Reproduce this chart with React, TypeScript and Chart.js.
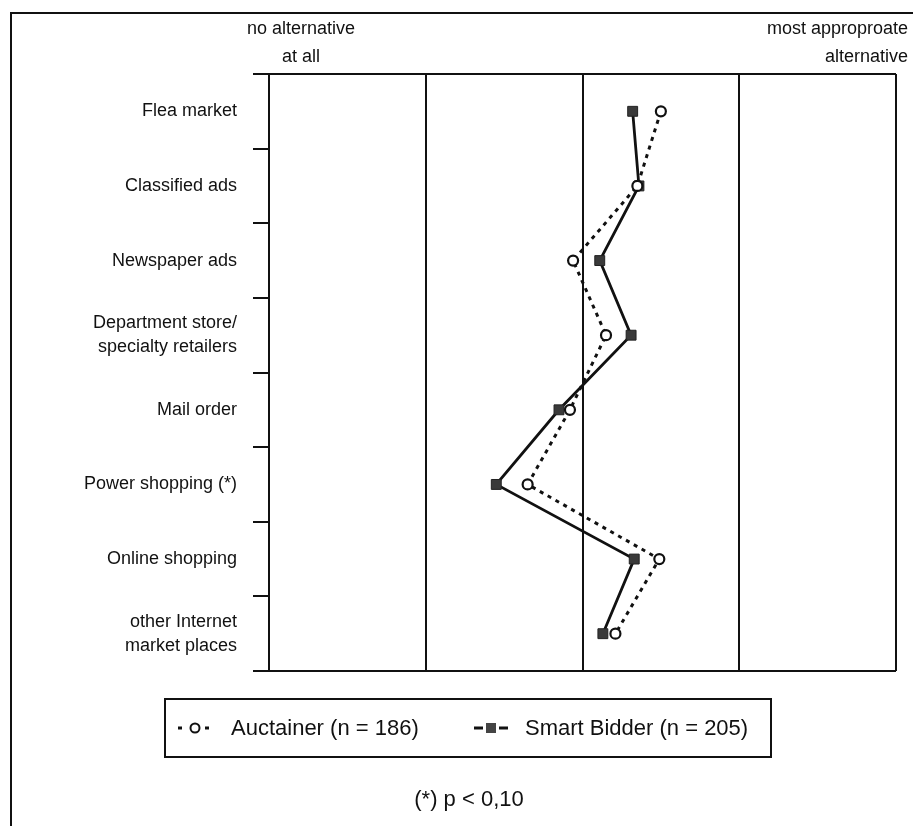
import React, { useEffect, useRef } from "react";
import { Chart, registerables } from "chart.js";

Chart.register(...registerables);

const categories: (string | string[])[] = [
  "Flea market",
  "Classified ads",
  "Newspaper ads",
  ["Department store/", "specialty retailers"],
  "Mail order",
  "Power shopping (*)",
  "Online shopping",
  ["other Internet", "market places"],
];

const auctainerValues = [3.5, 3.35, 2.94, 3.15, 2.92, 2.65, 3.49, 3.21];
const smartBidderValues = [3.32, 3.36, 3.11, 3.31, 2.85, 2.45, 3.33, 3.13];

const scaleMin = 1;
const scaleMax = 5;
const leftLabel = ["no alternative", "at all"];
const rightLabel = ["most approproate", "alternative"];
const seriesNames = ["Auctainer (n = 186)", "Smart Bidder (n = 205)"];
const footnote = "(*) p < 0,10";

const FONT = "'Liberation Sans', Arial, Helvetica, sans-serif";

const framePlugin = {
  id: "frame",
  beforeDatasetsDraw(chart: any) {
    const { ctx, chartArea } = chart;
    const x = chart.scales.x;
    ctx.save();
    ctx.strokeStyle = "#111";
    ctx.lineWidth = 2;
    ctx.beginPath();
    ctx.moveTo(11, 826);
    ctx.lineTo(11, 13);
    ctx.lineTo(913, 13);
    ctx.stroke();
    ctx.beginPath();
    ctx.moveTo(chartArea.left - 15, chartArea.top);
    ctx.lineTo(chartArea.right, chartArea.top);
    ctx.moveTo(chartArea.left - 15, chartArea.bottom);
    ctx.lineTo(chartArea.right, chartArea.bottom);
    ctx.stroke();
    ctx.beginPath();
    for (let v = scaleMin; v <= scaleMax; v++) {
      const px = Math.round(x.getPixelForValue(v));
      ctx.moveTo(px, chartArea.top);
      ctx.lineTo(px, chartArea.bottom);
    }
    ctx.stroke();
    ctx.fillStyle = "#111";
    ctx.font = `18px ${FONT}`;
    ctx.textBaseline = "middle";
    ctx.textAlign = "center";
    const lx = x.getPixelForValue(scaleMin) + 32;
    leftLabel.forEach((t, i) => ctx.fillText(t, lx, 29 + i * 28));
    ctx.textAlign = "right";
    const rx = x.getPixelForValue(scaleMax) + 12;
    rightLabel.forEach((t, i) => ctx.fillText(t, rx, 29 + i * 28));
    ctx.restore();
  },
  afterDraw(chart: any) {
    const { ctx } = chart;
    ctx.save();
    const bx = 165, by = 699, bw = 606, bh = 58;
    ctx.strokeStyle = "#111";
    ctx.lineWidth = 2;
    ctx.strokeRect(bx, by, bw, bh);
    const cy = by + bh / 2;
    ctx.font = `22px ${FONT}`;
    ctx.fillStyle = "#111";
    ctx.textAlign = "left";
    ctx.textBaseline = "middle";
    const items = [
      { x: 178, tx: 231, ds: chart.data.datasets[0] },
      { x: 474, tx: 525, ds: chart.data.datasets[1] },
    ];
    items.forEach((it, i) => {
      ctx.save();
      ctx.strokeStyle = "#111";
      ctx.lineWidth = 3;
      ctx.setLineDash(it.ds.borderDash || []);
      ctx.beginPath();
      ctx.moveTo(it.x, cy);
      ctx.lineTo(it.x + 34, cy);
      ctx.stroke();
      ctx.restore();
      const mx = it.x + 17;
      ctx.fillStyle = "#fff";
      ctx.fillRect(mx - 8, cy - 7, 16, 14);
      if (it.ds.pointStyle === "circle") {
        ctx.beginPath();
        ctx.arc(mx, cy, 4.5, 0, Math.PI * 2);
        ctx.fillStyle = "#fff";
        ctx.fill();
        ctx.lineWidth = 2;
        ctx.strokeStyle = "#111";
        ctx.stroke();
      } else {
        ctx.fillStyle = "#444";
        ctx.fillRect(mx - 5, cy - 5, 10, 10);
      }
      ctx.fillStyle = "#111";
      ctx.fillText(seriesNames[i], it.tx, cy + 1);
    });
    ctx.textAlign = "center";
    ctx.fillText(footnote, 469, 800);
    ctx.restore();
  },
};

export default function App() {
  const canvasRef = useRef<HTMLCanvasElement | null>(null);

  useEffect(() => {
    if (!canvasRef.current) return;
    const chart = new Chart(canvasRef.current, {
      type: "line",
      data: {
        labels: categories as any,
        datasets: [
          {
            label: seriesNames[0],
            data: auctainerValues,
            borderColor: "#111",
            borderWidth: 3,
            borderDash: [4, 5],
            pointStyle: "circle",
            pointRadius: 5,
            pointBackgroundColor: "#fff",
            pointBorderColor: "#111",
            pointBorderWidth: 2.2,
            fill: false,
            tension: 0,
          },
          {
            label: seriesNames[1],
            data: smartBidderValues,
            borderColor: "#111",
            borderWidth: 2.8,
            pointStyle: "rect",
            pointRadius: 7,
            pointBackgroundColor: "#3a3a3a",
            pointBorderColor: "#222",
            pointBorderWidth: 1,
            fill: false,
            tension: 0,
          },
        ],
      },
      options: {
        indexAxis: "y",
        responsive: false,
        animation: false,
        layout: { padding: { left: 0, right: 17, top: 74, bottom: 155 } },
        plugins: {
          legend: { display: false },
          tooltip: { enabled: false },
        },
        scales: {
          x: {
            type: "linear",
            min: scaleMin,
            max: scaleMax,
            display: false,
          },
          y: {
            type: "category",
            offset: true,
            grid: {
              offset: true,
              drawOnChartArea: false,
              drawTicks: true,
              tickLength: 16,
              color: "#111",
              lineWidth: 2,
            },
            border: { display: true, color: "#111", width: 2 },
            ticks: {
              color: "#111",
              padding: 16,
              font: { family: FONT, size: 18, lineHeight: 1.35 },
            },
            afterFit(scale: any) {
              scale.width = 269;
            },
          },
        },
      },
      plugins: [framePlugin],
    });
    return () => chart.destroy();
  }, []);

  return (
    <div style={{ position: "absolute", left: 0, top: 0, width: 913, height: 826, background: "#fff" }}>
      <canvas ref={canvasRef} width={913} height={826} style={{ width: 913, height: 826, display: "block" }} />
    </div>
  );
}
